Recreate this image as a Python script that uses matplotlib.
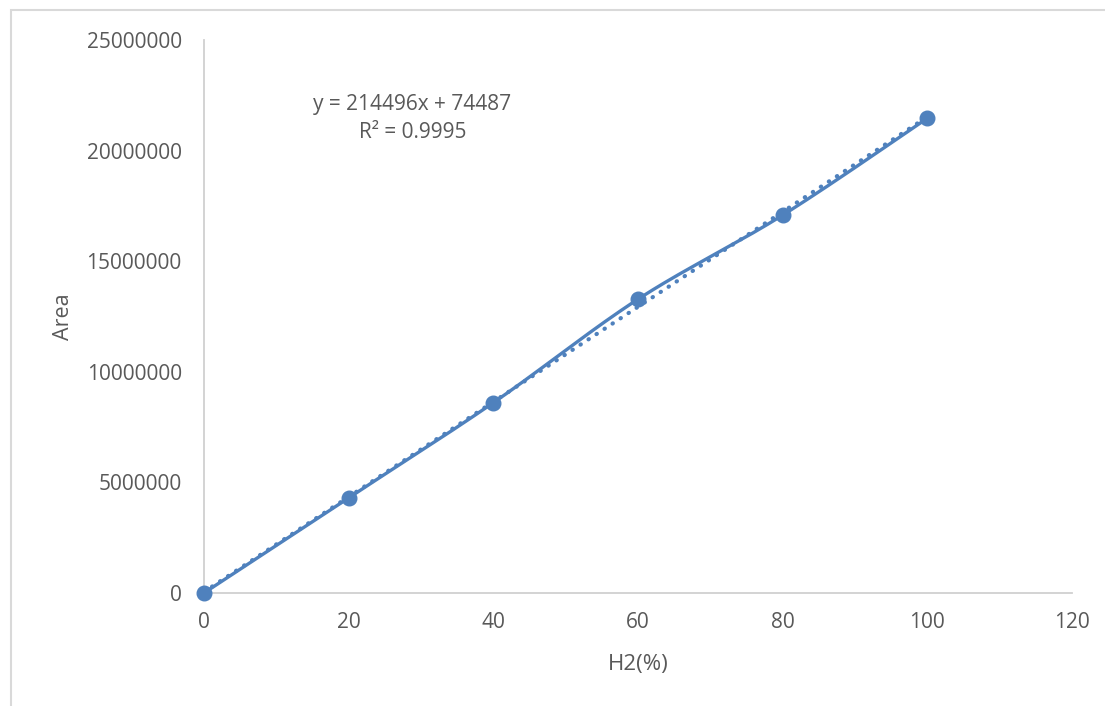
import matplotlib.pyplot as plt
import numpy as np
from matplotlib.patches import Rectangle

# Calibration data
h2_percent = [0, 20, 40, 60, 80, 100]
area = [0, 4300000, 8600000, 13280000, 17080000, 21460000]

x_ticks = [0, 20, 40, 60, 80, 100, 120]
y_ticks = [0, 5000000, 10000000, 15000000, 20000000, 25000000]

line_color = '#4F81BD'
text_color = '#595959'
axis_color = '#D0D0D0'

plt.rcParams['font.family'] = ['Open Sans', 'DejaVu Sans']


def catmull_rom(xs, ys, n=40):
    # Excel-like smoothed line through the points
    px = np.asarray(xs, dtype=float)
    py = np.asarray(ys, dtype=float)
    px = np.concatenate([[px[0]], px, [px[-1]]])
    py = np.concatenate([[py[0]], py, [py[-1]]])
    out_x, out_y = [], []
    for i in range(1, len(px) - 2):
        t = np.linspace(0, 1, n)
        p0, p1, p2, p3 = [np.array([px[k], py[k]]) for k in range(i - 1, i + 3)]
        c1 = p1 + (p2 - p0) / 6
        c2 = p2 - (p3 - p1) / 6
        pts = (np.outer((1 - t) ** 3, p1) + np.outer(3 * (1 - t) ** 2 * t, c1)
               + np.outer(3 * (1 - t) * t ** 2, c2) + np.outer(t ** 3, p2))
        out_x.extend(pts[:, 0])
        out_y.extend(pts[:, 1])
    return np.array(out_x), np.array(out_y)


fig = plt.figure(figsize=(11.05, 7.06), dpi=100)
ax = fig.add_axes([0.1846, 0.1601, 0.7855, 0.7833])

# chart area border
fig.patches.append(Rectangle((11 / 1105, -0.1), 1.2, 1.1 - 10 / 706,
                             transform=fig.transFigure, fill=False,
                             edgecolor='#D9D9D9', linewidth=1.5))

# linear trendline (dotted)
slope, intercept = np.polyfit(h2_percent, area, 1)
tx = np.array([min(h2_percent), max(h2_percent)])
ax.plot(tx, slope * tx + intercept, linestyle=(0, (0.1, 2.2)), color=line_color,
        linewidth=3, dash_capstyle='round', zorder=2)

# smoothed series line
sx, sy = catmull_rom(h2_percent, area)
ax.plot(sx, sy, color=line_color, linewidth=2.4, solid_capstyle='round', zorder=3)
ax.plot(h2_percent, area, linestyle='none', marker='o', markersize=10.5,
        color=line_color, zorder=4, clip_on=False)

ax.text(28.8, 21450000, 'y = 214496x + 74487\nR² = 0.9995', ha='center', va='center',
        fontsize=15, color=text_color, linespacing=1.45)

ax.set_xlim(0, 120)
ax.set_ylim(0, 25000000)
ax.set_xticks(x_ticks)
ax.set_yticks(y_ticks)
ax.set_xticklabels([str(v) for v in x_ticks])
ax.set_yticklabels([str(v) for v in y_ticks])
ax.tick_params(axis='both', length=0, labelsize=15, labelcolor=text_color)
ax.tick_params(axis='y', pad=16)
ax.tick_params(axis='x', pad=14)

for side in ['top', 'right']:
    ax.spines[side].set_visible(False)
for side in ['left', 'bottom']:
    ax.spines[side].set_color(axis_color)
    ax.spines[side].set_linewidth(1.3)

ax.set_xlabel('H2(%)', fontsize=16, color=text_color, labelpad=15)
ax.set_ylabel('Area', fontsize=15.5, color=text_color, labelpad=9)

fig.savefig('out.png', dpi=100)
